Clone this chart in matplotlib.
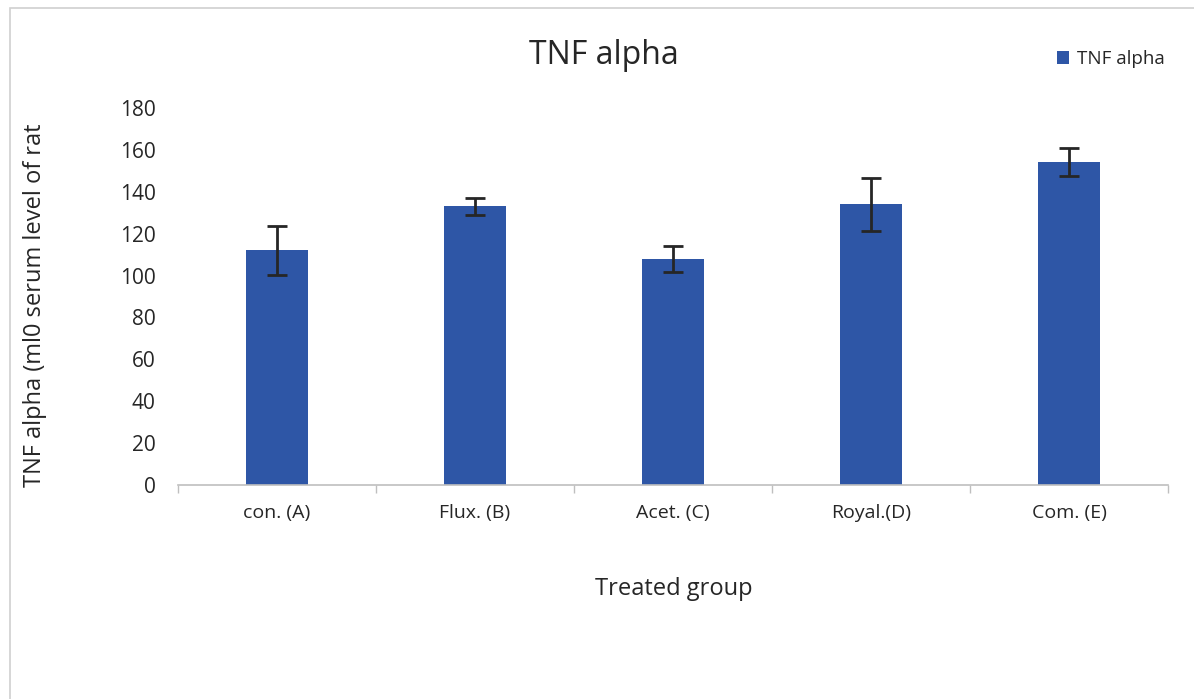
import matplotlib
matplotlib.use("Agg")
import matplotlib.pyplot as plt
from matplotlib.patches import Rectangle
import numpy as np

categories = ["con. (A)", "Flux. (B)", "Acet. (C)", "Royal.(D)", "Com. (E)"]
values = [112, 133, 108, 134, 154]
errors = [11.5, 4.2, 6.3, 12.7, 6.7]
yticks = [0, 20, 40, 60, 80, 100, 120, 140, 160, 180]

plt.rcParams['font.family'] = ['Open Sans', 'DejaVu Sans']

W, H = 1194, 699
fig = plt.figure(figsize=(W / 100, H / 100), dpi=100)
ax = fig.add_axes([178 / W, 1 - 485 / H, 990 / W, (485 - 108) / H])

x = np.arange(len(categories))
bar_color = "#2E56A6"
ax.bar(x, values, width=0.31, color=bar_color, label="TNF alpha", zorder=2)
ax.errorbar(x, values, yerr=errors, fmt="none", ecolor="#262626", elinewidth=2,
            capsize=7, capthick=2, zorder=3)

ax.set_xlim(-0.5, len(categories) - 0.5)
ax.set_ylim(0, 180)
ax.set_yticks(yticks)
ax.set_yticklabels([str(t) for t in yticks], fontsize=15, color="#262626")
ax.set_xticks(x)
ax.set_xticklabels(categories, fontsize=14, color="#262626")
ax.tick_params(axis="y", length=0, pad=16)
ax.tick_params(axis="x", length=0, pad=14)
ax.set_xticks(np.arange(-0.5, len(categories), 1.0), minor=True)
ax.tick_params(axis="x", which="minor", length=6, color="#BFBFBF", width=1)

for s in ["top", "right", "left"]:
    ax.spines[s].set_visible(False)
ax.spines["bottom"].set_color("#BFBFBF")
ax.spines["bottom"].set_linewidth(1.2)

fig.text(35 / W, 1 - 305 / H, "TNF alpha (ml0 serum level of rat", fontsize=17,
         color="#262626", rotation=90, ha="center", va="center")
fig.text(674 / W, 1 - 589 / H, "Treated group", fontsize=17, color="#262626",
         ha="center", va="center")
fig.text(604 / W, 1 - 55 / H, "TNF alpha", fontsize=23, color="#262626",
         ha="center", va="center")

leg = ax.legend(loc="center left", bbox_to_anchor=(1040 / W, 1 - 59 / H),
                bbox_transform=fig.transFigure, frameon=False, fontsize=13.5,
                handlelength=0.65, handleheight=0.65, handletextpad=0.4)
for t in leg.get_texts():
    t.set_color("#262626")

fig.patches.append(Rectangle((10 / W, -0.05), 1.2, 1 - 8 / H + 0.05,
                             transform=fig.transFigure, fill=False,
                             edgecolor="#D0D0D0", linewidth=1.2))

fig.savefig("out.png", dpi=100, facecolor="white")
